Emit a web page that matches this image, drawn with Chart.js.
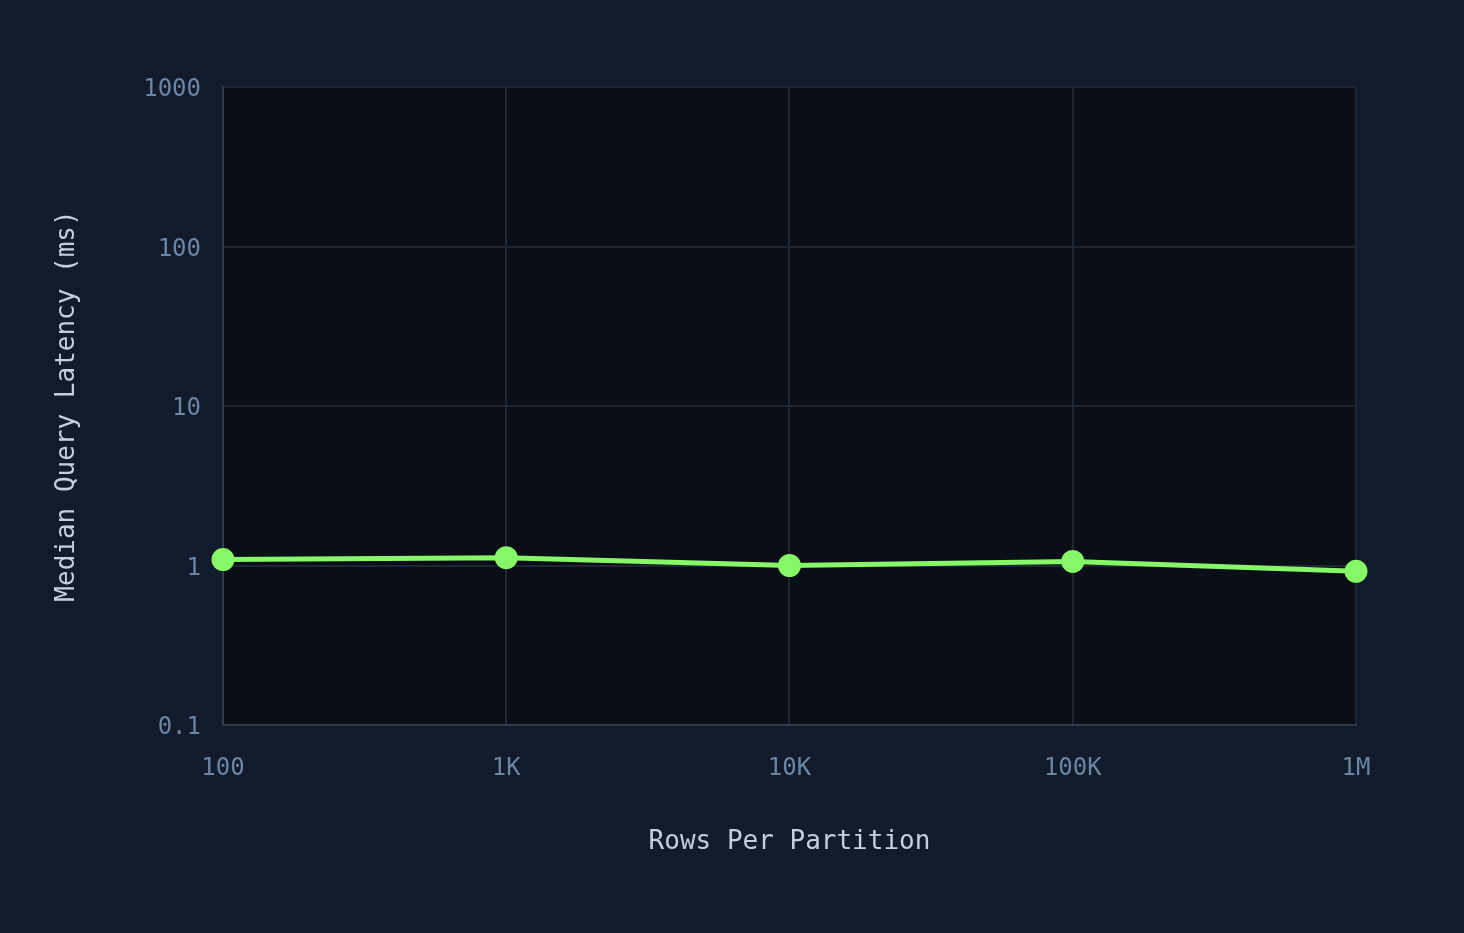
<!DOCTYPE html>
<html>
<head>
<meta charset="utf-8">
<script src="https://cdn.jsdelivr.net/npm/chart.js@4.4.1/dist/chart.umd.min.js"></script>
<style>
  html, body { margin: 0; padding: 0; background: #121b2b; }
  #wrap { width: 1464px; height: 933px; }
</style>
</head>
<body>
<div id="wrap"><canvas id="myChart" width="1464" height="933"></canvas></div>
<script>
'use strict';

const rowsPerPartition = ['100', '1K', '10K', '100K', '1M'];
const latencyMs = [1.09, 1.12, 1.0, 1.06, 0.92];
const yTicks = [0.1, 1, 10, 100, 1000];

const ctx = document.getElementById('myChart');
const monoFont = "'DejaVu Sans Mono', 'Liberation Mono', monospace";

// paint the plot area darker than the page
const plotBg = {
  id: 'plotBg',
  beforeDraw(chart) {
    const a = chart.chartArea;
    const c = chart.ctx;
    c.save();
    c.fillStyle = '#0a0e17';
    c.fillRect(a.left, a.top, a.right - a.left, a.bottom - a.top);
    c.restore();
  }
};

new Chart(ctx, {
  type: 'line',
  data: {
    labels: rowsPerPartition,
    datasets: [{
      label: 'Median latency',
      data: latencyMs,
      borderColor: '#86f767',
      backgroundColor: '#86f767',
      borderWidth: 5,
      pointRadius: 9,
      pointHoverRadius: 9,
      tension: 0
    }]
  },
  options: {
    responsive: false,
    animation: false,
    layout: { padding: { left: 48, right: 108, top: 87, bottom: 75 } },
    plugins: {
      legend: { display: false },
      tooltip: { enabled: false }
    },
    scales: {
      x: {
        type: 'category',
        offset: false,
        grid: { color: '#1e2634', lineWidth: 2, drawTicks: false },
        border: { color: '#2e3a4e', width: 2 },
        ticks: { color: '#6b85a5', font: { family: monoFont, size: 24 }, padding: 29 },
        title: {
          display: true,
          text: 'Rows Per Partition',
          color: '#c3cfdd',
          font: { family: monoFont, size: 26 },
          padding: { top: 15, bottom: 0 }
        }
      },
      y: {
        type: 'logarithmic',
        min: 0.1,
        max: 1000,
        afterBuildTicks(axis) {
          axis.ticks = yTicks.map(v => ({ value: v }));
        },
        grid: { color: '#1e2634', lineWidth: 2, drawTicks: false },
        border: { color: '#2e3a4e', width: 2 },
        ticks: {
          color: '#6b85a5',
          font: { family: monoFont, size: 24 },
          padding: 22,
          labelOffset: 3,
          callback: v => String(v)
        },
        title: {
          display: true,
          text: 'Median Query Latency (ms)',
          color: '#c3cfdd',
          font: { family: monoFont, size: 26 },
          padding: { bottom: 38 }
        }
      }
    }
  },
  plugins: [plotBg]
});
</script>
</body>
</html>
